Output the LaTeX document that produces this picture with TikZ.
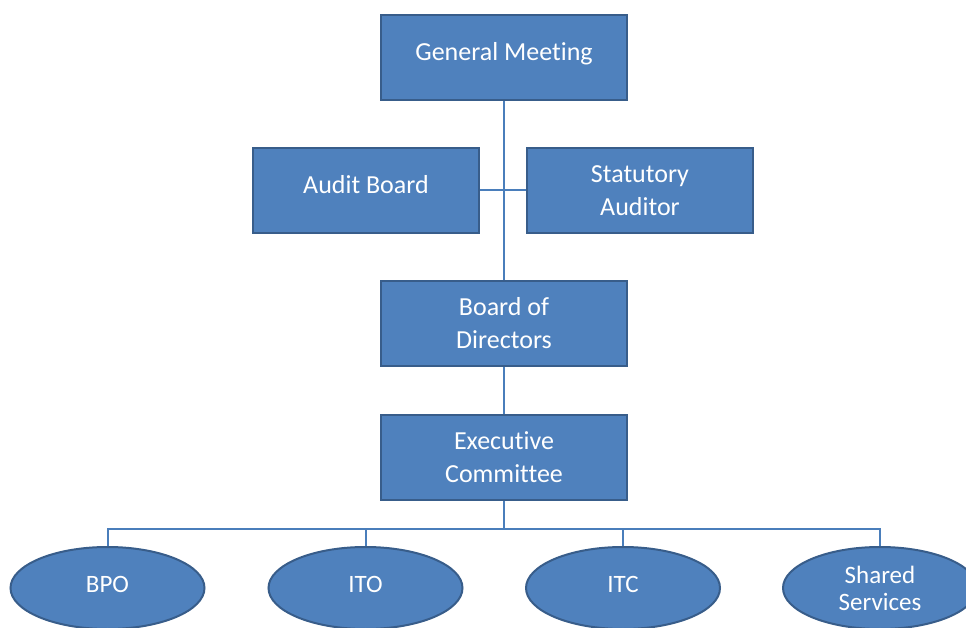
\documentclass[tikz,border=0pt]{standalone}
\usepackage{fontspec}
\setmainfont{Carlito}[Ligatures={NoCommon}]
\usetikzlibrary{shapes.geometric}
\definecolor{boxfill}{HTML}{4F81BD}
\definecolor{boxline}{HTML}{385D8A}
\definecolor{conn}{HTML}{4A7EBB}
\begin{document}
\begin{tikzpicture}[x=1pt,y=-1pt,
  orgbox/.style={draw=boxline,line width=2pt,fill=boxfill,text=white,
    minimum width=246pt,minimum height=85pt,inner sep=0pt,align=center,
    font=\fontsize{26}{33}\selectfont},
  unit/.style={ellipse,draw=boxline,line width=2pt,fill=boxfill,text=white,
    minimum width=194pt,minimum height=82pt,inner sep=0pt,align=center,
    font=\fontsize{25}{27}\selectfont},
  oneline/.style={text height=18pt,text depth=12pt},
  oneunit/.style={text height=16pt,text depth=8pt},
  link/.style={draw=conn,line width=2pt}]
\useasboundingbox (0,0) rectangle (966,628);
\clip (0,0) rectangle (966,628);
\node[orgbox,oneline] (gm) at (504,57.5) {General Meeting};
\node[orgbox,oneline,minimum width=226pt] (ab) at (366,190.5) {Audit Board};
\node[orgbox,minimum width=226pt] (sa) at (640,190.5) {Statutory\\Auditor};
\node[orgbox] (bod) at (504,323.5) {Board of\\Directors};
\node[orgbox] (ec) at (504,457.5) {Executive\\Committee};
\node[unit,oneunit] (bpo) at (107.5,588) {BPO};
\node[unit,oneunit] (ito) at (365.5,588) {ITO};
\node[unit,oneunit] (itc) at (623,588) {ITC};
\node[unit] (ss) at (880,588) {Shared\\Services};
\path[link] (ab.east) -- (sa.west);
\path[link] (gm.south) -- (bod.north);
\path[link] (bod.south) -- (ec.north);
\path[link] (ec.south) -- ++(0,28) coordinate (bus);
\path[link] (bus) -| (bpo.north);
\path[link] (bus) -| (ito.north);
\path[link] (bus) -| (itc.north);
\path[link] (bus) -| (ss.north);
\end{tikzpicture}
\end{document}
